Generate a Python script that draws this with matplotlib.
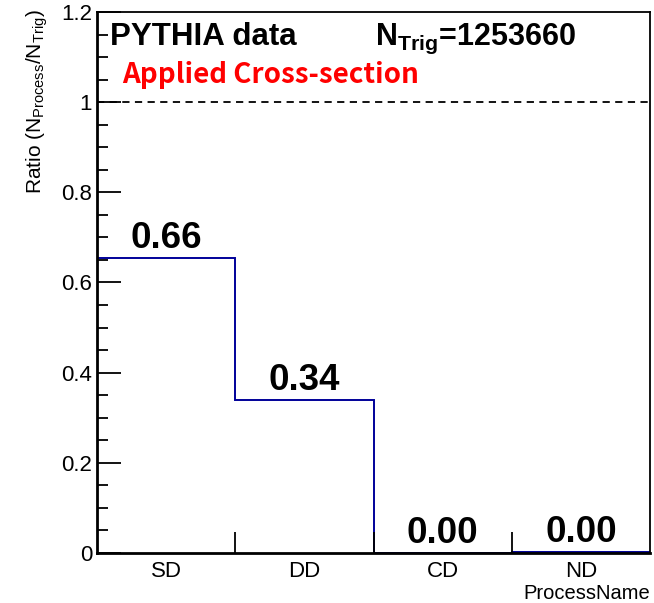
import matplotlib
matplotlib.use("Agg")
import matplotlib.pyplot as plt
from matplotlib.ticker import MultipleLocator, FixedLocator, FuncFormatter
import numpy as np

categories = ["SD", "DD", "CD", "ND"]
ratios = [0.655, 0.339, 0.0, 0.003]
bar_labels = ["0.66", "0.34", "0.00", "0.00"]
n_trig = 1253660
ref_line = 1.0

plt.rcParams['font.family'] = ['Liberation Sans', 'DejaVu Sans']

fig = plt.figure(figsize=(6.54, 6.03), dpi=100)
ax = fig.add_axes([97/654, 50/603, 553/654, 541/603])

edges = np.arange(len(categories) + 1)
ax.stairs(ratios, edges, color="#000099", linewidth=1.4, baseline=None)
ax.axhline(ref_line, color="black", linestyle=(0, (4, 3)), linewidth=1.3)

for i, (v, lab) in enumerate(zip(ratios, bar_labels)):
    ax.text(i + 0.5, v + 0.004, lab, ha="center", va="bottom",
            fontsize=26.5, fontweight="bold")

ax.set_xlim(0, 4)
ax.set_ylim(0, 1.2)

ax.yaxis.set_major_locator(MultipleLocator(0.2))
ax.yaxis.set_minor_locator(MultipleLocator(0.05))
ax.yaxis.set_major_formatter(FuncFormatter(lambda v, p: "%g" % round(v, 2)))
ax.tick_params(axis="y", which="major", direction="in", length=17, width=1.3,
               labelsize=16, right=False, pad=3.5)
ax.tick_params(axis="y", which="minor", direction="in", length=8, width=1.3, right=False)

ax.xaxis.set_major_locator(FixedLocator(edges[1:-1]))
ax.xaxis.set_major_formatter(FuncFormatter(lambda v, p: ""))
ax.xaxis.set_minor_locator(FixedLocator(edges[:-1] + 0.5))
ax.set_xticklabels(categories, minor=True)
ax.tick_params(axis="x", which="major", direction="in", length=15, width=1.3, top=False)
ax.tick_params(axis="x", which="minor", length=0, labelsize=16, pad=6)

for s in ax.spines.values():
    s.set_linewidth(1.3)
ax.spines["left"].set_linewidth(2)
ax.spines["bottom"].set_linewidth(2)

ax.set_ylabel(r"Ratio (N$_{\mathregular{Process}}$/N$_{\mathregular{Trig}}$)", fontsize=15)
ax.yaxis.set_label_coords(-0.085, 1.005)
ax.yaxis.label.set_ha("right")
ax.set_xlabel("ProcessName", fontsize=14.5)
ax.xaxis.label.set_ha("right")
ax.xaxis.label.set_va("baseline")
ax.xaxis.set_label_coords(1.0, -0.0855)

fig.text(110/654, 1 - 45/603, "PYTHIA data", fontsize=22.5, fontweight="bold", va="baseline")
fig.text(375/654, 1 - 45/603, r"N$_{\mathregular{Trig}}$=%d" % n_trig, fontsize=22,
         fontweight="bold", va="baseline", math_fontfamily="custom")
fig.text(122/654, 1 - 83/603, "Applied Cross-section", fontsize=20, fontweight="bold",
         color="red", va="baseline", family=["Noto Sans CJK KR", "DejaVu Sans"])

fig.savefig("out.png", dpi=100)
